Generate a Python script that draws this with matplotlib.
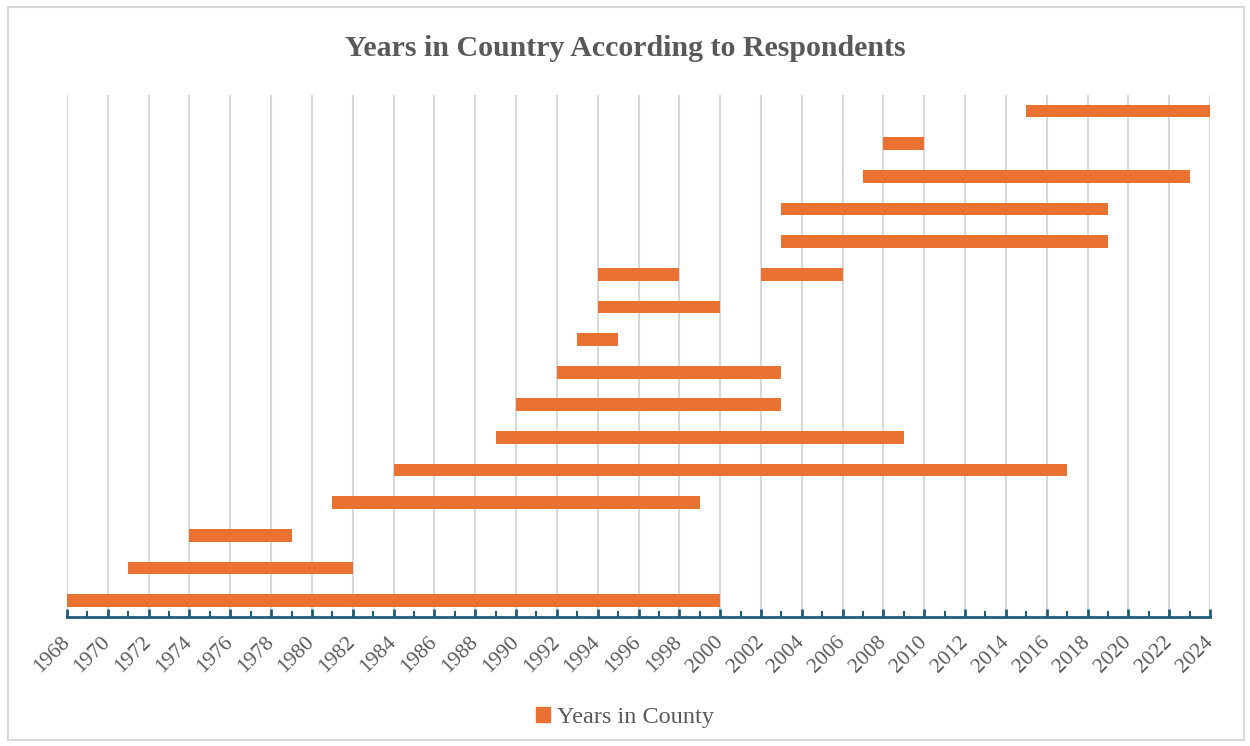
import matplotlib.pyplot as plt
from matplotlib.patches import Rectangle, Patch
from matplotlib.ticker import MultipleLocator

# one entry per bar: respondent row (0 = bottom), first and last year
rows = [0, 1, 2, 3, 4, 5, 6, 7, 8, 9, 10, 10, 11, 12, 13, 14, 15]
start_year = [1968, 1971, 1974, 1981, 1984, 1989, 1990, 1992, 1993, 1994,
              1994, 2002, 2003, 2003, 2007, 2008, 2015]
end_year = [2000, 1982, 1979, 1999, 2017, 2009, 2003, 2003, 1995, 2000,
            1998, 2006, 2019, 2019, 2023, 2010, 2024]

BAR_COLOR = '#E97132'
TEXT_COLOR = '#595959'
AXIS_COLOR = '#1F5C7A'

plt.rcParams['font.family'] = ['Liberation Serif', 'DejaVu Serif']

fig = plt.figure(figsize=(12.5, 7.46), dpi=100)
ax = fig.add_axes([0.0536, 0.173, 0.9144, 0.7])

widths = [e - s for s, e in zip(start_year, end_year)]
ax.barh(rows, widths, left=start_year, height=0.39, color=BAR_COLOR,
        edgecolor='none', zorder=3)

ax.set_xlim(1968, 2024)
ax.set_ylim(-0.5, 15.5)
ax.xaxis.set_major_locator(MultipleLocator(2))
ax.xaxis.set_minor_locator(MultipleLocator(1))
ax.set_xticks(range(1968, 2025, 2))
ax.set_xticklabels([str(y) for y in range(1968, 2025, 2)], rotation=45,
                   ha='right', va='center', rotation_mode='anchor',
                   fontsize=15.5, color=TEXT_COLOR)
ax.tick_params(axis='x', which='major', direction='in', length=6, width=2,
               color=AXIS_COLOR, pad=16)
ax.tick_params(axis='x', which='minor', direction='in', length=4, width=1.5,
               color=AXIS_COLOR)
ax.set_yticks([])

ax.grid(axis='x', which='major', color='#D9D9D9', linewidth=1.5, zorder=0)
for side in ['top', 'right', 'left']:
    ax.spines[side].set_visible(False)
ax.spines['bottom'].set_color(AXIS_COLOR)
ax.spines['bottom'].set_linewidth(2)

fig.text(0.5, 0.935, 'Years in Country According to Respondents',
         ha='center', va='center', fontsize=21.5, fontweight='bold',
         color=TEXT_COLOR)

fig.legend(handles=[Patch(color=BAR_COLOR, label='Years in County')],
           loc='center', bbox_to_anchor=(0.5, 0.038), frameon=False,
           fontsize=17.5, handlelength=0.6, handleheight=0.6,
           handletextpad=0.3, labelcolor=TEXT_COLOR)

# light frame round the whole chart
fig.patches.append(Rectangle((0.006, 0.008), 0.989, 0.982,
                             transform=fig.transFigure, fill=False,
                             edgecolor='#D9D9D9', linewidth=1.5))

fig.savefig('out.png', dpi=100)
